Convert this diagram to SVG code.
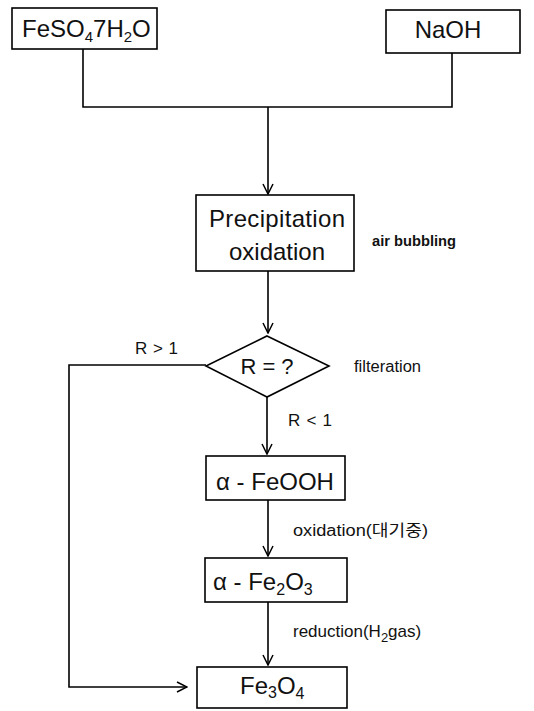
<svg xmlns="http://www.w3.org/2000/svg" width="534" height="711" viewBox="0 0 534 711">
<defs>
<marker id="arr" viewBox="0 0 12 12" refX="11" refY="6" markerWidth="12" markerHeight="12" markerUnits="userSpaceOnUse" orient="auto">
<path d="M1,1 L11,6 L1,11" fill="none" stroke="#000" stroke-width="1.5"/>
</marker>
<style>
.box{fill:#fff;stroke:#000;stroke-width:1.6}
.ln{fill:none;stroke:#000;stroke-width:1.6}
.big{font-family:"Liberation Sans",Arial,sans-serif;font-size:24px;fill:#111}
.sm{font-family:"Liberation Sans","Noto Sans CJK KR",sans-serif;font-size:16px;fill:#111}
</style>
</defs>
<rect width="534" height="711" fill="#fff"/>
<g id="connectors">
<polyline class="ln" points="83,49 83,107 452,107 452,53"/>
<line class="ln" x1="268" y1="107" x2="268" y2="194" marker-end="url(#arr)"/>
<line class="ln" x1="268" y1="271" x2="268" y2="333" marker-end="url(#arr)"/>
<line class="ln" x1="267" y1="397" x2="267" y2="454" marker-end="url(#arr)"/>
<line class="ln" x1="268" y1="500" x2="268" y2="556" marker-end="url(#arr)"/>
<line class="ln" x1="268" y1="602" x2="268" y2="665" marker-end="url(#arr)"/>
<polyline class="ln" points="206,365 69,365 69,687 187,687" marker-end="url(#arr)"/>
<text class="sm" x="135" y="354" style="font-size:17px" textLength="43">R &gt; 1</text>
<text class="sm" x="288" y="426" style="font-size:17px" textLength="44">R &lt; 1</text>
</g>
<g id="feso4">
<rect class="box" x="12" y="8" width="145" height="41"/>
<text class="big" x="22" y="37">FeSO<tspan font-size="15" dy="5">4</tspan><tspan dy="-5">7H</tspan><tspan font-size="15" dy="5">2</tspan><tspan dy="-5">O</tspan></text>
</g>
<g id="naoh">
<rect class="box" x="386" y="10" width="134" height="43"/>
<text class="big" x="448" y="38" text-anchor="middle">NaOH</text>
</g>
<g id="precip">
<rect class="box" x="196" y="195" width="158" height="76"/>
<text class="big" x="277" y="227" text-anchor="middle" textLength="136">Precipitation</text>
<text class="big" x="277" y="260" text-anchor="middle">oxidation</text>
<text class="sm" x="372" y="246" font-weight="bold" style="font-size:15px" textLength="84" lengthAdjust="spacingAndGlyphs">air bubbling</text>
</g>
<g id="decision">
<polygon class="box" points="267,336 329,366 267,397 206,366"/>
<text class="big" x="267" y="374" text-anchor="middle" style="font-size:22px">R = ?</text>
<text class="sm" x="354" y="372" textLength="67" lengthAdjust="spacingAndGlyphs">filteration</text>
</g>
<g id="feooh">
<rect class="box" x="206" y="456" width="139" height="44"/>
<text class="big" x="275" y="490" text-anchor="middle">α - FeOOH</text>
<text class="sm" x="293" y="536" textLength="135" lengthAdjust="spacingAndGlyphs">oxidation(대기중)</text>
</g>
<g id="fe2o3">
<rect class="box" x="205" y="558" width="142" height="44"/>
<text class="big" x="213" y="590">α - Fe<tspan font-size="16" dy="5">2</tspan><tspan dy="-5">O</tspan><tspan font-size="16" dy="5">3</tspan></text>
<text class="sm" x="293" y="637" style="font-size:17px">reduction(H<tspan font-size="13" dy="5">2</tspan><tspan dy="-5">gas)</tspan></text>
</g>
<g id="fe3o4">
<rect class="box" x="197" y="667" width="150" height="41"/>
<text class="big" x="240" y="694">Fe<tspan font-size="16" dy="4">3</tspan><tspan dy="-4">O</tspan><tspan font-size="16" dy="5">4</tspan></text>
</g>
</svg>
